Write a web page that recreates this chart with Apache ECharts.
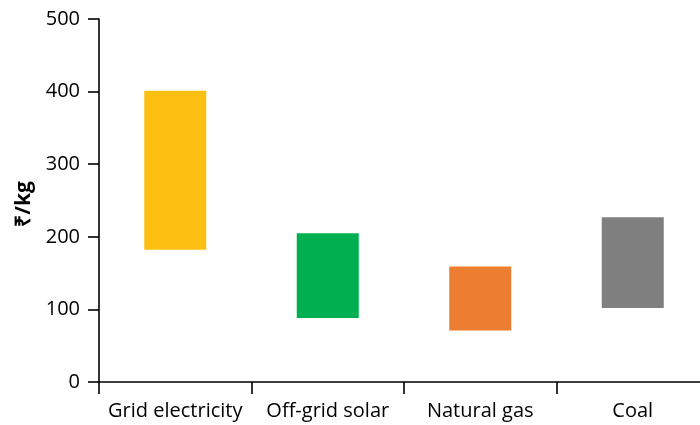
<!DOCTYPE html>
<html><head><meta charset="utf-8">
<script src="https://cdn.jsdelivr.net/npm/echarts@6/dist/echarts.min.js"></script>
<style>html,body{margin:0;padding:0;background:#fff}#c{width:700px;height:425px}</style>
</head><body><div id="c"></div>
<script>
const categories = ['Grid electricity', 'Off-grid solar', 'Natural gas', 'Coal'];
const lowValues = [182, 88, 71, 102];
const highValues = [401, 205, 159, 227];
const colors = ['#FCBF12', '#00B050', '#ED7D31', '#7F7F7F'];
const yTicks = [0, 100, 200, 300, 400, 500];

const rangeValues = highValues.map((h, i) => ({ value: h - lowValues[i], itemStyle: { color: colors[i] } }));
const FONT = '"Open Sans", sans-serif';
const chart = echarts.init(document.getElementById('c'), null, { renderer: 'canvas' });
chart.setOption({
  animation: false,
  backgroundColor: '#fff',
  grid: { left: 99, width: 610, top: 19, bottom: 43, containLabel: false, outerBoundsMode: 'none' },
  xAxis: {
    type: 'category', data: categories,
    axisLine: { lineStyle: { color: '#000', width: 1.6 } },
    axisTick: { show: true, interval: 0, length: 12, lineStyle: { color: '#000', width: 1.6 } },
    axisLabel: { color: '#000', fontFamily: FONT, fontSize: 20, margin: 19, interval: 0, hideOverlap: false }
  },
  yAxis: {
    type: 'value', min: yTicks[0], max: yTicks[yTicks.length - 1], interval: 100,
    name: '₹/kg', nameLocation: 'middle', nameGap: 57, nameRotate: 90,
    nameTextStyle: { color: '#000', fontFamily: FONT, fontSize: 21, fontWeight: 'bold', padding: [0, 7, 0, 0] },
    axisLine: { show: true, lineStyle: { color: '#000', width: 1.6 } },
    axisTick: { show: true, length: 11, lineStyle: { color: '#000', width: 1.6 } },
    axisLabel: { color: '#000', fontFamily: FONT, fontSize: 20, margin: 19 },
    splitLine: { show: false }
  },
  series: [
    { type: 'bar', stack: 'r', data: lowValues, barWidth: 62, itemStyle: { color: 'transparent' }, silent: true },
    { type: 'bar', stack: 'r', data: rangeValues, barWidth: 62 }
  ]
});
</script></body></html>
